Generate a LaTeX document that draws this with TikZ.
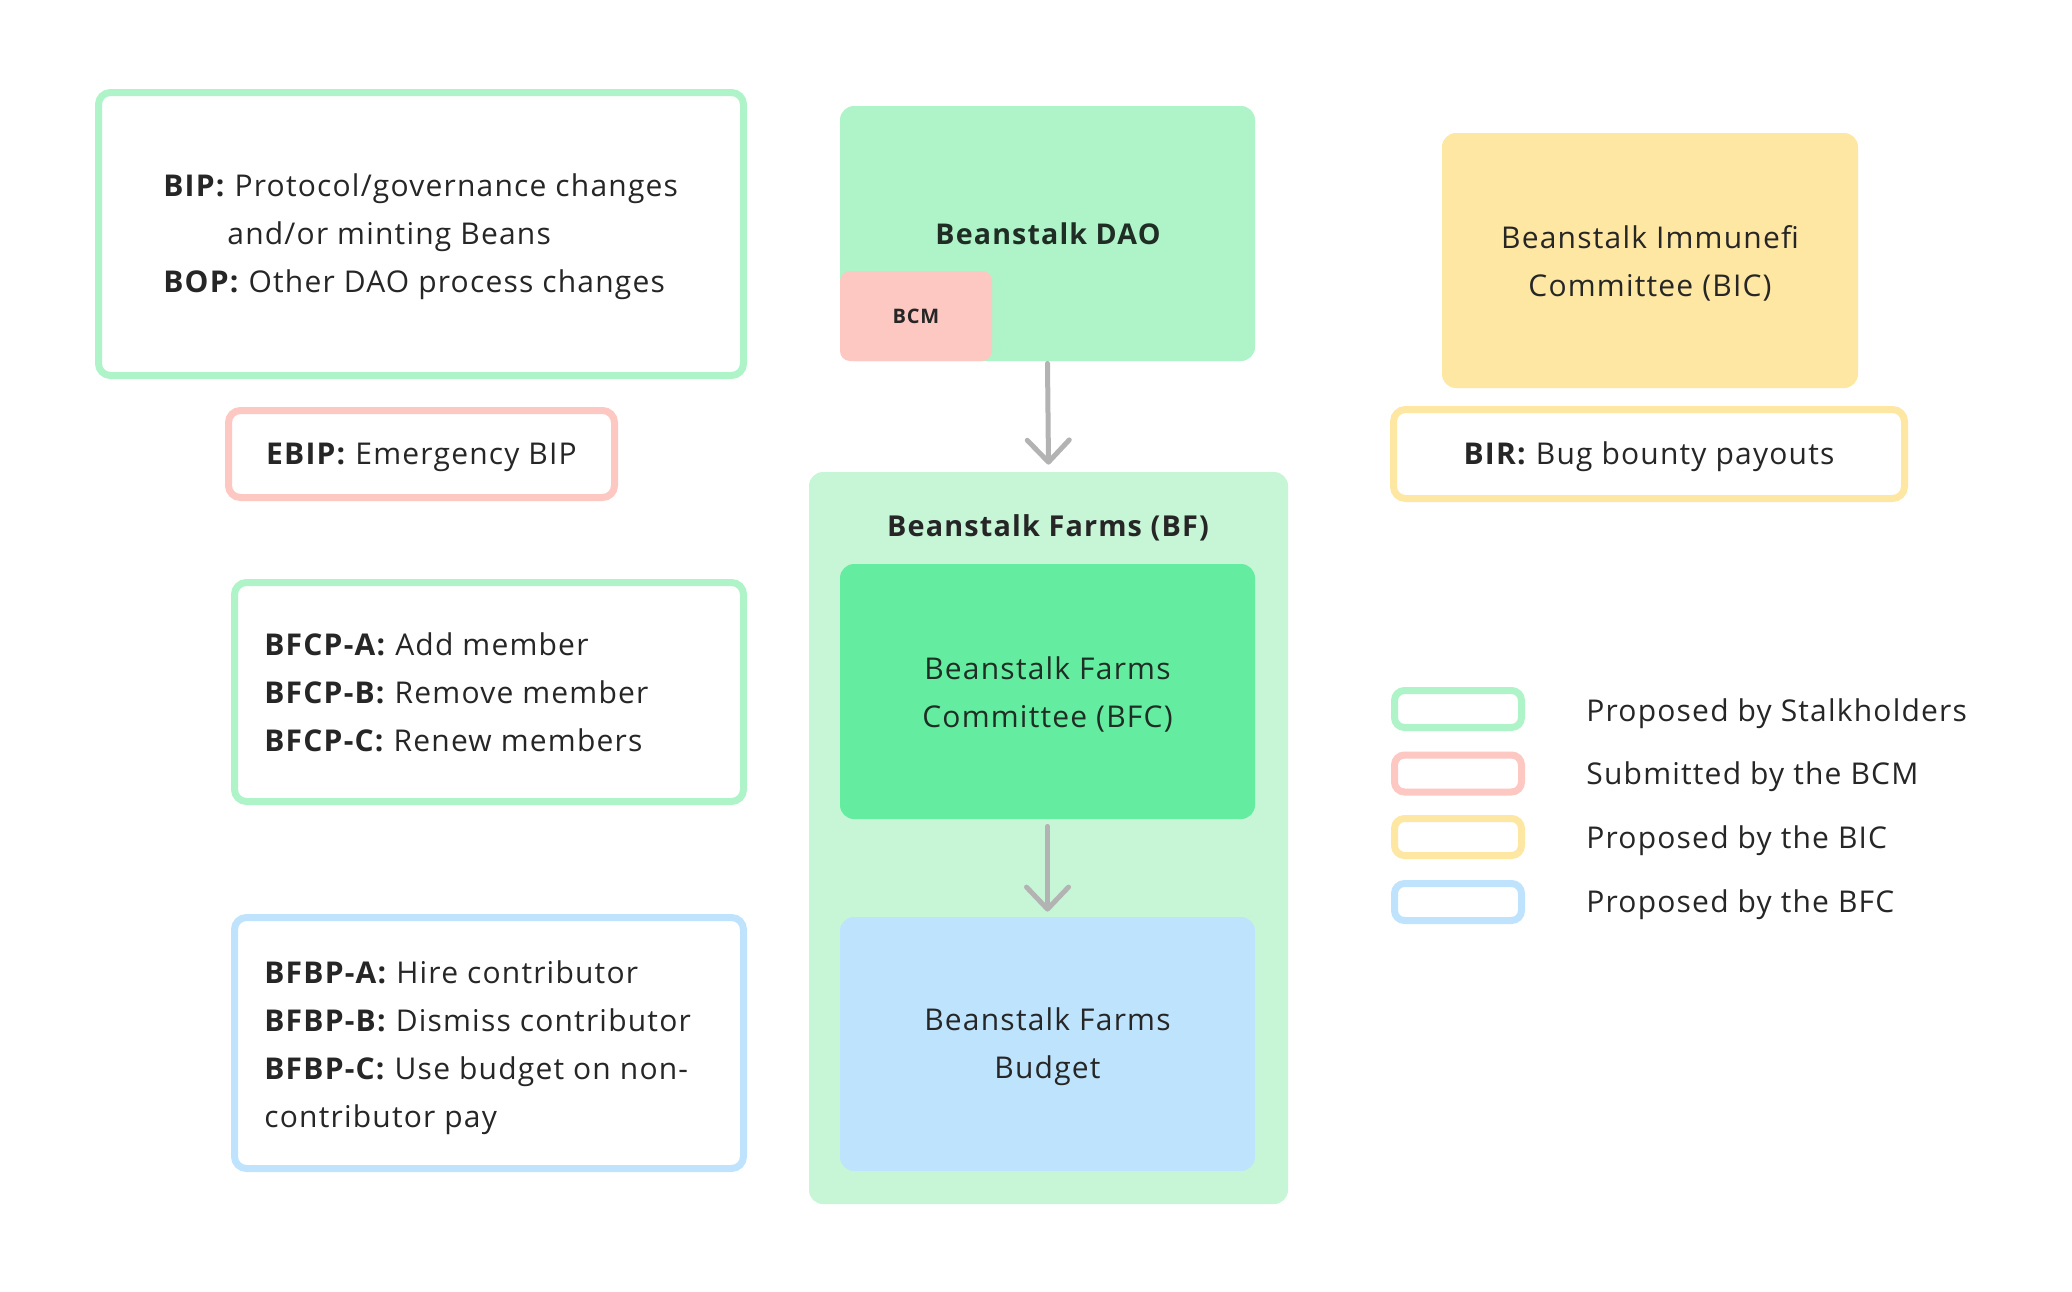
\documentclass[tikz,border=0pt]{standalone}
\usepackage{fontspec}
\setmainfont{Open Sans}[LetterSpace=4]
\usetikzlibrary{arrows.meta}
\definecolor{mintline}{HTML}{AEF4C8}
\definecolor{mintfill}{HTML}{AFF4C8}
\definecolor{bffill}{HTML}{C7F6D7}
\definecolor{bfcfill}{HTML}{64EDA0}
\definecolor{bluefill}{HTML}{BEE3FC}
\definecolor{blueline}{HTML}{BFE3FC}
\definecolor{pinkfill}{HTML}{FDC7C2}
\definecolor{yellowfill}{HTML}{FEE7A2}
\definecolor{arrowgray}{HTML}{B3B3B3}
\definecolor{textdark}{HTML}{262626}
\definecolor{textgreen}{HTML}{1F2D24}
\tikzset{
  outline/.style={draw, line width=3.5pt, rounded corners=6pt, fill=white, inner sep=0},
  solidbox/.style={rounded corners=7pt, inner sep=0},
  txt/.style={font=\fontsize{15}{24}\selectfont, text=textdark, align=left, inner sep=0, yshift=-1.5pt},
  ctxt/.style={font=\fontsize{15}{24}\selectfont, text=textdark, align=center, inner sep=0, yshift=-1.5pt},
  flow/.style={draw=arrowgray, line width=2.5pt, line cap=round, -{Straight Barb[length=11pt,width=21pt,round]}}
}
\begin{document}
\begin{tikzpicture}[x=0.5pt,y=-0.5pt]
\useasboundingbox (0,0) rectangle (2072,1291);
\fill[white] (0,0) rectangle (2072,1291);

% left boxes
\node[outline, draw=mintline, minimum width=322.5pt, minimum height=141.5pt] (bip) at (421,234) {};
\node[outline, draw=pinkfill, minimum width=193pt, minimum height=43.5pt] (ebip) at (421.5,454) {};
\node[outline, draw=mintline, minimum width=254.5pt, minimum height=109.5pt] (bfcp) at (489,692) {};
\node[outline, draw=blueline, minimum width=254.5pt, minimum height=125.5pt] (bfbp) at (489,1043) {};

\node[txt, anchor=west] (biptxt) at (163,234) {\textbf{BIP:} Protocol/governance changes\\\hspace*{32pt}and/or minting Beans\\\textbf{BOP:} Other DAO process changes};
\node[txt] (ebiptxt) at (ebip.center) {\textbf{EBIP:} Emergency BIP};
\node[txt, anchor=west] (bfcptxt) at (264,689.5) {\textbf{BFCP-A:} Add member\\\textbf{BFCP-B:} Remove member\\\textbf{BFCP-C:} Renew members};
\node[txt, anchor=west] (bfbptxt) at (264,1045) {\textbf{BFBP-A:} Hire contributor\\\textbf{BFBP-B:} Dismiss contributor\\\textbf{BFBP-C:} Use budget on non-\\contributor pay};

% centre column
\node[solidbox, fill=mintfill, minimum width=207.5pt, minimum height=127.5pt] (dao) at (1047.5,233.5) {};
\node[solidbox, fill=pinkfill, minimum width=76pt, minimum height=45pt, rounded corners=5pt] (bcm) at (916,316) {};
\node[font=\fontsize{14.3}{18}\selectfont\bfseries, text=textgreen, inner sep=0] (daotxt) at (1048,234) {Beanstalk DAO};
\node[font=\fontsize{10}{12}\selectfont\bfseries, text=textdark, inner sep=0] (bcmtxt) at (bcm.center) {BCM};

\node[solidbox, fill=bffill, minimum width=239.5pt, minimum height=366pt] (bf) at (1048.5,838) {};
\node[font=\fontsize{14.4}{18}\selectfont\bfseries, text=textdark, inner sep=0] (bftxt) at (1048,528) {Beanstalk Farms (BF)};
\node[solidbox, fill=bfcfill, minimum width=207.5pt, minimum height=127.5pt] (bfc) at (1047.5,691.5) {};
\node[ctxt, text=textgreen] (bfctxt) at (bfc.center) {Beanstalk Farms\\Committee (BFC)};
\node[solidbox, fill=bluefill, minimum width=207.5pt, minimum height=127pt] (budget) at (1047.5,1044) {};
\node[ctxt] (budgettxt) at (budget.center) {Beanstalk Farms\\Budget};

\draw[flow] ([yshift=-1pt]dao.south) -- ([yshift=3.5pt]bf.north);
\draw[flow] ([yshift=-3.5pt]bfc.south) -- ([yshift=2.5pt]budget.north);

% right column
\node[solidbox, fill=yellowfill, minimum width=208pt, minimum height=127.5pt] (bic) at (1650,260.5) {};
\node[ctxt] (bictxt) at (bic.center) {Beanstalk Immunefi\\Committee (BIC)};
\node[outline, draw=yellowfill, minimum width=255.5pt, minimum height=44.5pt] (bir) at (1649,454) {};
\node[txt] (birtxt) at (bir.center) {\textbf{BIR:} Bug bounty payouts};

% legend
\node[outline, draw=mintline, minimum width=63.5pt, minimum height=18.5pt, rounded corners=5pt] (lg1) at (1458,709) {};
\node[outline, draw=pinkfill, minimum width=63.5pt, minimum height=18.5pt, rounded corners=5pt] (lg2) at (1458,773.5) {};
\node[outline, draw=yellowfill, minimum width=63.5pt, minimum height=18.5pt, rounded corners=5pt] (lg3) at (1458,837) {};
\node[outline, draw=blueline, minimum width=63.5pt, minimum height=18.5pt, rounded corners=5pt] (lg4) at (1458,902) {};
\node[txt, anchor=west] (lt1) at (1586,711) {Proposed by Stalkholders};
\node[txt, anchor=west] (lt2) at (1586,774) {Submitted by the BCM};
\node[txt, anchor=west] (lt3) at (1586,838) {Proposed by the BIC};
\node[txt, anchor=west] (lt4) at (1586,902) {Proposed by the BFC};
\end{tikzpicture}
\end{document}
